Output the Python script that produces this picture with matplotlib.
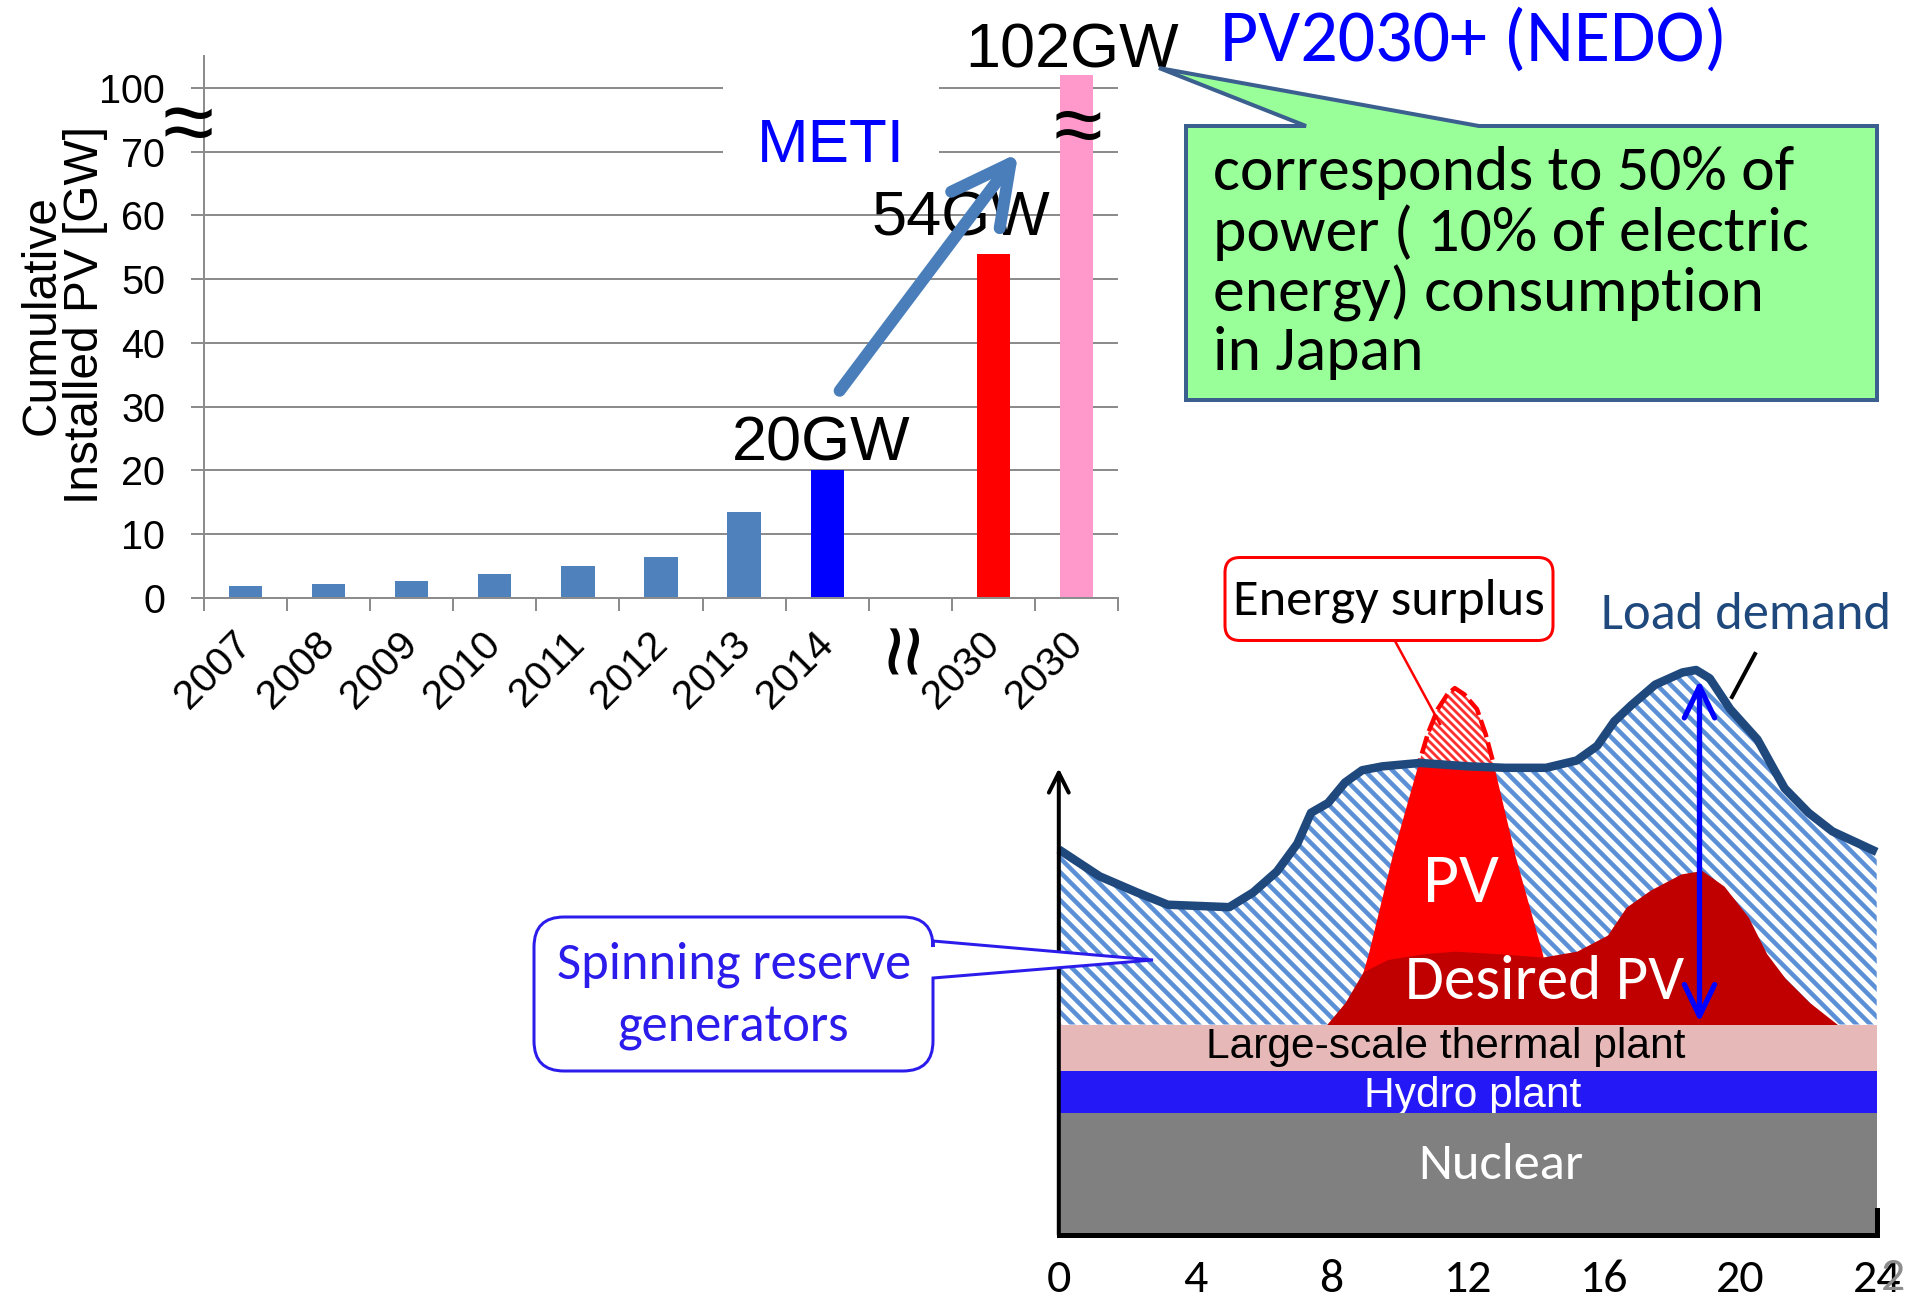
import numpy as np
import matplotlib
matplotlib.use("Agg")
import matplotlib.pyplot as plt
from matplotlib import transforms as mtransforms
from matplotlib.patches import Polygon, PathPatch, FancyBboxPatch
from matplotlib.path import Path
from matplotlib.lines import Line2D
from matplotlib.collections import LineCollection

# ---------------- data: cumulative installed PV ----------------
years = ["2007", "2008", "2009", "2010", "2011", "2012", "2013", "2014", "", "2030", "2030"]
installed_gw = [1.9, 2.2, 2.7, 3.7, 5.0, 6.5, 13.5, 20.0, np.nan, 54.0, 102.0]
bar_colors = ["#4F81BD"] * 7 + ["#0000FF", "none", "#FF0000", "#FF99CC"]
gw_ticks = [0, 10, 20, 30, 40, 50, 60, 70, 100]

# ---------------- data: daily supply/demand sketch ----------------
hour_ticks = [0, 4, 8, 12, 16, 20, 24]
load_hours = [0.0, 1.2, 2.3, 3.2, 5.0, 5.7, 6.4, 7.0, 7.4, 7.9, 8.4, 8.9, 9.5, 10.6, 12.0,
              13.1, 14.3, 15.2, 15.8, 16.3, 16.8, 17.5, 18.3, 18.7, 19.1, 19.7, 20.5, 21.0,
              21.3, 22.0, 22.7, 24.0]
load_level = [78.8, 73.3, 70.0, 67.5, 67.0, 70.0, 74.3, 80.0, 86.3, 88.3, 92.5, 95.0, 95.8,
              96.5, 95.8, 95.5, 95.5, 97.0, 100.0, 105.0, 108.3, 112.5, 115.0, 115.5, 113.8,
              107.5, 101.3, 95.0, 91.3, 86.3, 82.5, 78.3]
pv_hours = [8.5, 9.1, 9.8, 10.55, 10.83, 11.12, 11.4, 11.62, 11.9, 12.27, 12.52, 12.77,
            13.4, 14.2, 14.7]
pv_output = [0, 14.5, 34.5, 53.0, 59.5, 64.5, 67.5, 68.8, 67.5, 64.5, 59.5, 53.0, 34.5, 14.5, 0]
desired_hours = [7.86, 8.4, 8.93, 9.65, 10.73, 11.62, 12.88, 14.2, 15.2, 16.1, 16.65, 17.36,
                 18.26, 18.87, 19.52, 20.23, 20.77, 21.31, 22.03, 22.85]
desired_output = [0, 4.5, 10.8, 13.3, 14.5, 15.0, 14.5, 13.8, 15.0, 18.3, 24.0, 27.5, 30.8,
                  31.5, 28.3, 22.0, 14.5, 9.5, 4.5, 0]
band_names = ["Nuclear", "Hydro plant", "Large-scale thermal plant"]
band_bottom = [0, 25, 33.5]
band_top = [25, 33.5, 43]
band_colors = ["#808080", "#2419F6", "#E6B9B8"]
band_text_colors = ["white", "white", "black"]

# ---------------- figure set-up ----------------
W, H = 1917, 1307
DPI = 84
PT = 72.0 / DPI          # points per pixel
ARIAL = ["Liberation Sans", "DejaVu Sans"]
CALIBRI = ["Carlito", "Lato", "DejaVu Sans"]
plt.rcParams["font.family"] = ARIAL

fig = plt.figure(figsize=(W / DPI, H / DPI), dpi=DPI)
fig.patch.set_facecolor("white")
PX = mtransforms.Affine2D().scale(1.0 / W, -1.0 / H).translate(0, 1) + fig.transFigure


def axes_px(left, top, right, bottom):
    return fig.add_axes([left / W, 1 - bottom / H, (right - left) / W, (bottom - top) / H])


def fit(text, width_px):
    r = fig.canvas.get_renderer()
    w = text.get_window_extent(r).width
    text.set_fontsize(text.get_fontsize() * width_px / w)
    return text.get_fontsize()


# ================= bar chart with broken y axis =================
def fwd(v):
    v = np.asarray(v, dtype=float)
    return np.where(v <= 70, v / 10.0, np.where(v >= 100, 8 + (v - 100) / 10.0, 7 + (v - 70) / 30.0))


def inv(p):
    p = np.asarray(p, dtype=float)
    return np.where(p <= 7, p * 10.0, np.where(p >= 8, 100 + (p - 8) * 10.0, 70 + (p - 7) * 30.0))


GRAY = "#8C8C8C"
ax = axes_px(204, 56, 1118, 598)
ax.set_yscale("function", functions=(fwd, inv))
x = np.arange(len(years))
ax.bar(x, installed_gw, width=0.4, color=bar_colors, zorder=2)
ax.set_xlim(-0.5, len(years) - 0.5)
ax.set_ylim(0, 105)
ax.set_yticks(gw_ticks)
ax.set_yticklabels([str(t) for t in gw_ticks])
ax.yaxis.set_minor_locator(matplotlib.ticker.NullLocator())
ax.grid(axis="y", color=GRAY, lw=2 * PT, zorder=0)
ax.set_axisbelow(True)
for s in ("top", "right"):
    ax.spines[s].set_visible(False)
for s in ("left", "bottom"):
    ax.spines[s].set_color(GRAY)
    ax.spines[s].set_linewidth(2 * PT)
ax.tick_params(axis="y", length=13 * PT, width=2 * PT, color=GRAY, pad=26 * PT,
               labelsize=34)
ax.set_xticks(x)
ax.set_xticklabels(years)
ax.set_xticks(np.arange(-0.5, len(years)), minor=True)
ax.tick_params(axis="x", which="major", length=0, pad=40 * PT, labelsize=35)
ax.tick_params(axis="x", which="minor", length=13 * PT, width=2 * PT, color=GRAY)
for lab in ax.get_xticklabels():
    lab.set_rotation(45)
    lab.set_ha("right")
    lab.set_va("center")
    lab.set_rotation_mode("anchor")

fig.text(42, 315, "Cumulative", rotation=90, ha="center", va="center", fontsize=41,
         transform=PX)
fig.text(86, 315, "Installed PV [GW]", rotation=90, ha="center", va="center", fontsize=41,
         transform=PX)

# value labels
label_offsets = {7: (-6, 10), 9: (-33, 18), 10: (-4, 8)}
for i, (dx, dy) in label_offsets.items():
    ax.annotate(f"{installed_gw[i]:.0f}GW", xy=(i, installed_gw[i]),
                xytext=(dx * PT, dy * PT), textcoords="offset points",
                ha="center", va="baseline", fontsize=54, zorder=3)

# axis-break marks
fig.text(188, 153, "\u2248", transform=PX, ha="center", va="baseline", fontsize=80,
         family=ARIAL, zorder=5)
fig.text(1078, 155, "\u2248", transform=PX, ha="center", va="baseline", fontsize=76,
         family=ARIAL, zorder=5)
fig.text(908, 648, "\u2248", transform=PX, ha="center", va="center", fontsize=80,
         family=ARIAL, rotation=90, zorder=5)

# METI growth arrow
ax.text(831, 146, "METI", transform=PX, ha="center", va="center", fontsize=53,
        color="#0000FF", zorder=2.5,
        bbox=dict(boxstyle="square,pad=0.55", fc="white", ec="none"))
ax.annotate("", xy=(9.3, 69.8), xytext=(7.15, 32.5),
            arrowprops=dict(arrowstyle="->,head_length=50,head_width=26",
                            mutation_scale=1, lw=12 * PT, color="#4A7EBB",
                            shrinkA=0, shrinkB=0),
            zorder=4, annotation_clip=False)

# NEDO callout
t = fig.text(1473, 40, "PV2030+ (NEDO)", transform=PX, ha="center", va="center",
             fontsize=56, color="#0000FF", family=CALIBRI)
fit(t, 507)

callout = Path([(1186, 126), (1306, 126), (1159, 68), (1479, 126), (1877, 126),
                (1877, 400), (1186, 400), (1186, 126)],
               [Path.MOVETO] + [Path.LINETO] * 6 + [Path.CLOSEPOLY])
fig.add_artist(PathPatch(callout, fc="#99FF99", ec="#3B5F8F", lw=4 * PT,
                         joinstyle="miter", transform=PX, zorder=2))
callout_lines = ["corresponds to 50% of", "power ( 10% of electric",
                 "energy) consumption", "in Japan"]
callout_base = [190, 251, 312, 370]
fs = None
for line, yb in zip(callout_lines, callout_base):
    t = fig.text(1213, yb, line, transform=PX, ha="left", va="baseline", fontsize=50,
                 family=CALIBRI, zorder=3)
    if fs is None:
        fs = fit(t, 582)
    else:
        t.set_fontsize(fs)

# ================= daily load sketch =================
AX2 = (1058.8, 599.1, 1876.7, 1234.8)
ax2 = axes_px(*AX2)
ax2.set_xlim(0, 24)
ax2.set_ylim(0, 130)
ax2.patch.set_visible(False)
for s in ("top", "right", "left"):
    ax2.spines[s].set_visible(False)
ax2.spines["bottom"].set_color("black")
ax2.spines["bottom"].set_linewidth(5 * PT)
ax2.spines["bottom"].set_zorder(10)
ax2.set_yticks([])
ax2.set_xticks(hour_ticks)
ax2.set_xticklabels([str(h) for h in hour_ticks])
ax2.tick_params(axis="x", length=0, pad=24 * PT, labelsize=41)
for lab in ax2.get_xticklabels():
    lab.set_family(CALIBRI)

base = band_top[-1]
load_pts = list(zip(load_hours, load_level))
pv_pts = [(h, base + v) for h, v in zip(pv_hours, pv_output)]
below_load = Polygon(load_pts + [(24, base), (0, base)], closed=True,
                     transform=ax2.transData)
pv_region = Polygon(pv_pts, closed=True, transform=ax2.transData)


def stripes(clip, spacing, width_px, color, zorder):
    """Diagonal stripe fill (top-left to bottom-right) clipped to a region."""
    left, top, right, bottom = AX2
    span = bottom - top
    segs = []
    xs = left - span
    while xs < right:
        segs.append([(xs, top), (xs + span, bottom)])
        xs += spacing
    lc = LineCollection(segs, colors=color, linewidths=width_px * PT, transform=PX,
                        zorder=zorder)
    ax2.add_collection(lc, autolim=False)
    lc.set_clip_path(clip)
    return lc


# energy surplus stripes (only the part above the load survives)
stripes(pv_region, 8, 2.8, "#FF3030", 0.9)
# spinning reserve between thermal top and load
white_reserve = Polygon(load_pts + [(24, base), (0, base)], closed=True,
                        facecolor="white", edgecolor="none", zorder=1.0)
ax2.add_patch(white_reserve)
stripes(below_load, 14, 4.5, "#5B8FD6", 1.1)

# PV output below the load
pv_solid = Polygon(pv_pts, closed=True, facecolor="#FF0000", edgecolor="none", zorder=2)
ax2.add_patch(pv_solid)
pv_solid.set_clip_path(below_load)
above_load = Polygon(load_pts + [(24, 400), (0, 400)], closed=True,
                     transform=ax2.transData)
outline, = ax2.plot(pv_hours, [base + v for v in pv_output], color="#FF0000", lw=4.5 * PT,
                    ls=(0, (4, 1.2)), zorder=4.5)
outline.set_clip_path(above_load)

# desired PV
ax2.fill_between(desired_hours, base, [base + v for v in desired_output], color="#C00000",
                 lw=0, zorder=3)

# base-load bands
band_z = [3.7, 3.5, 3.5]
text_z = [4.0, 3.6, 4.0]
band_text_pos = [(12.98, 14.3), (12.15, 28.4), (11.36, 38.4)]
thermal_fs = 36
for name, b0, b1, c, tc, bz, tz, (tx, ty) in zip(band_names, band_bottom, band_top,
                                                  band_colors, band_text_colors, band_z,
                                                  text_z, band_text_pos):
    ax2.fill_between([0, 24], b0, b1, color=c, lw=0, zorder=bz)
    fam = CALIBRI if name == "Nuclear" else ARIAL
    t = ax2.text(tx, ty, name, ha="center", va="center", color=tc, fontsize=36,
                 family=fam, zorder=tz)
    if name == "Nuclear":
        fit(t, 165)
    elif name == "Large-scale thermal plant":
        thermal_fs = fit(t, 479)
for t in ax2.texts:
    if t.get_text() == "Hydro plant":
        t.set_fontsize(thermal_fs)

# load demand curve
ax2.plot(load_hours, load_level, color="#1F497D", lw=8.5 * PT, solid_joinstyle="round",
         solid_capstyle="butt", zorder=5, clip_on=False)

# y axis arrow and right end mark
ax2.annotate("", xy=(0, 95.4), xytext=(0, 0),
             arrowprops=dict(arrowstyle="->,head_length=17,head_width=8.5", mutation_scale=1,
                             lw=4 * PT, color="black", shrinkA=0, shrinkB=0),
             zorder=9, annotation_clip=False)
ax2.plot([24, 24], [0, 5], color="black", lw=5 * PT, zorder=9, clip_on=False)

# reserve span arrow
ax2.annotate("", xy=(18.8, 113.4), xytext=(18.8, 43.5),
             arrowprops=dict(arrowstyle="<->,head_length=27,head_width=13", mutation_scale=1,
                             lw=5.3 * PT, color="#0000FF", shrinkA=0, shrinkB=0),
             zorder=6, annotation_clip=False)

# area labels
t = ax2.text(11.8, 71.9, "PV", ha="center", va="center", color="white", fontsize=50,
             family=CALIBRI, zorder=5.5)
fit(t, 76)
t = ax2.text(14.24, 51.7, "Desired PV", ha="center", va="center", color="white",
             fontsize=40, family=CALIBRI, zorder=5.5)
fit(t, 279)

# hour tick overlap mark
fig.text(1893, 1278, "2", transform=PX, ha="center", va="center", color="#8C8C8C",
         fontsize=41, family=CALIBRI, zorder=1)

# Energy surplus box
fig.add_artist(Line2D([1395, 1440], [641, 724], color="#FF0000", lw=2.5 * PT,
                      transform=PX, zorder=3))
fig.add_artist(FancyBboxPatch((1225, 557.5), 328, 83,
                              boxstyle="round,pad=0,rounding_size=15",
                              fc="white", ec="#FF0000", lw=3 * PT, transform=PX, zorder=3))
t = fig.text(1389, 601, "Energy surplus", transform=PX, ha="center", va="center",
             fontsize=36, family=CALIBRI, zorder=4)
fit(t, 312)

# Load demand label
fig.add_artist(Line2D([1755, 1732], [654, 697], color="black", lw=4 * PT,
                      transform=PX, zorder=3))
t = fig.text(1746, 615, "Load demand", transform=PX, ha="center", va="center",
             fontsize=36, color="#1F497D", family=CALIBRI, zorder=4)
fit(t, 291)

# Spinning reserve callout
r = 30
L, T, R, B = 534, 917, 933, 1071
verts = [(L + r, T), (R - r, T), (R, T), (R, T + r), (R, 941), (1153, 960), (R, 978),
         (R, B - r), (R, B), (R - r, B), (L + r, B), (L, B), (L, B - r), (L, T + r),
         (L, T), (L + r, T), (L + r, T)]
codes = [Path.MOVETO, Path.LINETO, Path.CURVE3, Path.CURVE3, Path.LINETO, Path.LINETO,
         Path.LINETO, Path.LINETO, Path.CURVE3, Path.CURVE3, Path.LINETO, Path.CURVE3,
         Path.CURVE3, Path.LINETO, Path.CURVE3, Path.CURVE3, Path.CLOSEPOLY]
fig.add_artist(PathPatch(Path(verts, codes), fc="white", ec="#2B1CEB", lw=3 * PT,
                         transform=PX, zorder=3))
t = fig.text(733.6, 965, "Spinning reserve", transform=PX, ha="center", va="center",
             fontsize=36, color="#2B1CEB", family=CALIBRI, zorder=4)
fs = fit(t, 355)
fig.text(733.6, 1028, "generators", transform=PX, ha="center", va="center",
         fontsize=fs, color="#2B1CEB", family=CALIBRI, zorder=4)

fig.savefig("out.png", dpi=DPI, facecolor="white")
